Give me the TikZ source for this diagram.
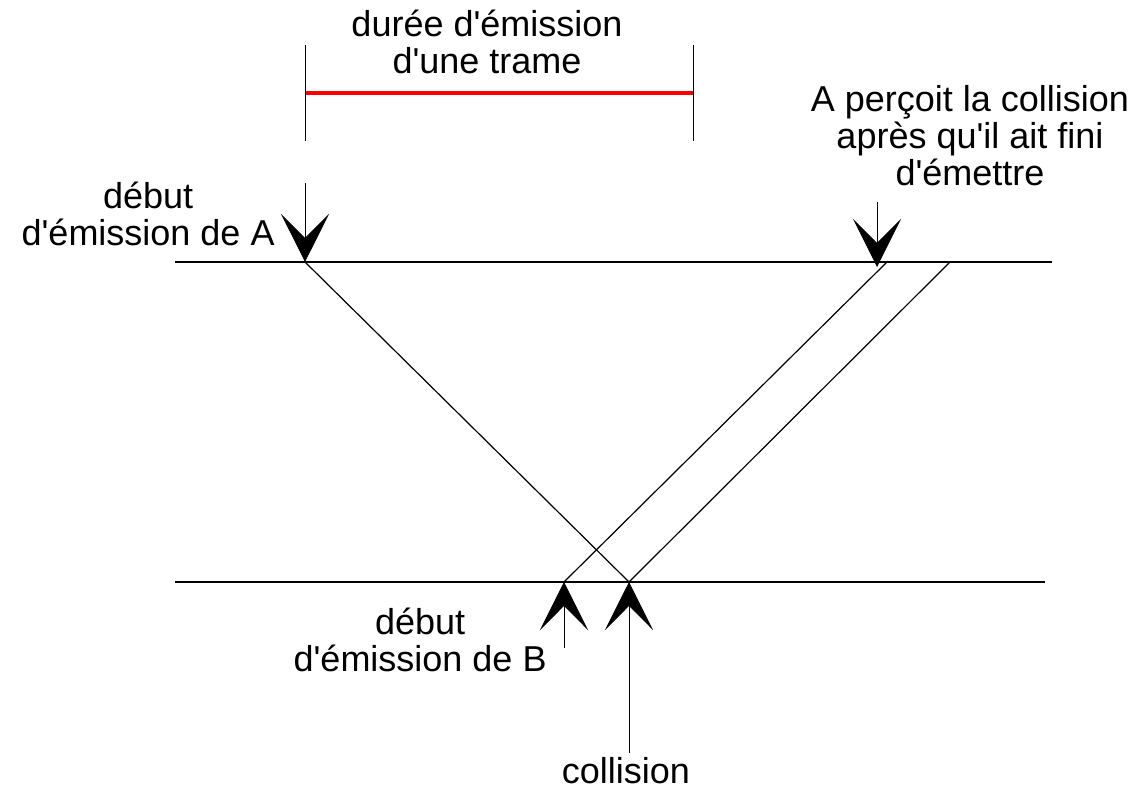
\documentclass[tikz,border=0pt]{standalone}
\usepackage{fontspec}
\setmainfont[Ligatures=TeXOff]{Liberation Sans}
\usetikzlibrary{arrows.meta,positioning}

\begin{document}
\begin{tikzpicture}[x=0.5pt, y=-0.5pt,
		ligne/.style={line width=0.7pt},
		fleche/.style={line width=0.5pt, -{Stealth[length=24pt,width=24pt,inset=12pt]}},
		texte/.style={align=center, inner sep=0pt, font=\fontsize{18}{18.5}\selectfont}
		]
	\useasboundingbox (0,0) rectangle (1148,790);
	% les deux stations
	\coordinate (hAg) at (175,262);
	\coordinate (hAd) at (1052,262);
	\coordinate (hBg) at (175,582);
	\coordinate (hBd) at (1045,582);
	\draw [ligne] (hAg) -- (hAd);
	\draw [ligne] (hBg) -- (hBd);
	% trajets des trames
	\coordinate (dA) at (305,262);
	\coordinate (fA) at (629,582);
	\coordinate (dB) at (564,582);
	\coordinate (fB) at (887,262);
	\coordinate (fB2) at (950,262);
	\draw [line width=0.6pt] (dA) -- (fA);
	\draw [line width=0.6pt] (dB) -- (fB);
	\draw [line width=0.6pt] (fA) -- (fB2);
	% duree d'emission
	\coordinate (t1) at (305,93);
	\coordinate (t2) at (693,93);
	\draw [red, line width=2pt] (t1) -- (t2);
	\draw [line width=0.5pt] ([yshift=24]t1) -- ([yshift=-24]t1);
	\draw [line width=0.5pt] ([yshift=24]t2) -- ([yshift=-24]t2);
	\node [texte] (duree) at (487,42) {durée d'émission\\d'une trame};
	% fleches
	\coordinate (qA) at (305,183);
	\coordinate (qP) at (877,202);
	\coordinate (pP) at (877,267);
	\coordinate (qB) at (564,648);
	\coordinate (qC) at (629,753);
	\draw [fleche] (qA) -- (dA);
	\draw [fleche] (qP) -- (pP);
	\draw [fleche] (qB) -- (dB);
	\draw [fleche] (qC) -- (fA);
	% textes
	\node [texte, anchor=east] (debutA) at (275,214) {début\\d'émission de A};
	\node [texte] (percoit) at (970,136) {A perçoit la collision\\après qu'il ait fini\\d'émettre};
	\node [texte, anchor=east] (debutB) at (547,640) {début\\d'émission de B};
	\node [texte] (collision) at (626,771) {collision};
\end{tikzpicture}
\end{document}
